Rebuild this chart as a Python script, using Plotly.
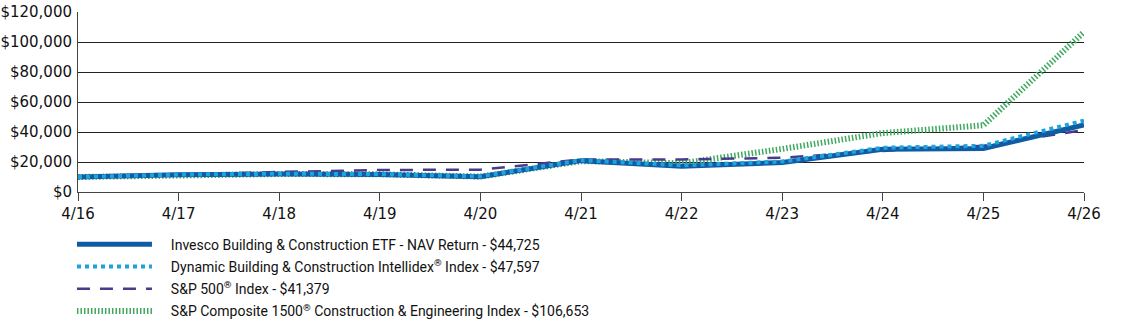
import plotly.graph_objects as go

tick_labels = ["4/16", "4/17", "4/18", "4/19", "4/20", "4/21", "4/22", "4/23", "4/24", "4/25", "4/26"]
x_pos = list(range(len(tick_labels)))

invesco = [10000, 11500, 12000, 11600, 10200, 20900, 17200, 19700, 28500, 29000, 44725]
dynamic = [10000, 11600, 12200, 11900, 10400, 21200, 17800, 20300, 29500, 30800, 47597]
sp500 = [10000, 11792, 13356, 14700, 14840, 21660, 21710, 22800, 27340, 30830, 41379]
sp1500ce = [10000, 11400, 12000, 11800, 10300, 20600, 19200, 28700, 39300, 44500, 106653]

names = [
    "Invesco Building & Construction ETF - NAV Return - $44,725",
    "Dynamic Building & Construction Intellidex<sup>®</sup> Index - $47,597",
    "S&P 500<sup>®</sup> Index - $41,379",
    "S&P Composite 1500<sup>®</sup> Construction & Engineering Index - $106,653",
]
pad = "\u00a0" * 4

y_ticks = [0, 20000, 40000, 60000, 80000, 100000, 120000]
y_tick_text = ["$0", "$20,000", "$40,000", "$60,000", "$80,000", "$100,000", "$120,000"]

fig = go.Figure()
fig.add_trace(go.Scatter(x=x_pos, y=sp1500ce, mode="lines", name=pad + names[3], legendrank=4,
                         legendgroup="d", line=dict(color="#3fa85f", width=6, dash="1.5px,2px")))
fig.add_trace(go.Scatter(x=x_pos, y=sp500, mode="lines", name=pad + names[2], legendrank=3,
                         legendgroup="c", line=dict(color="#4a3a8e", width=2.5, dash="13px,10px")))
fig.add_trace(go.Scatter(x=x_pos, y=invesco, mode="lines", name=pad + names[0], legendrank=1,
                         legendgroup="a", line=dict(color="#0f5ca5", width=5)))
fig.add_trace(go.Scatter(x=x_pos, y=dynamic, mode="lines", name=pad + names[1], legendrank=2,
                         legendgroup="b", line=dict(color="#1ea3dd", width=4, dash="dot")))

fig.update_layout(
    width=1123, height=327,
    margin=dict(l=78, r=39, t=12, b=135, autoexpand=False),
    paper_bgcolor="white", plot_bgcolor="white",
    font=dict(family="DejaVu Sans", size=15, color="#111"),
    showlegend=True,
    legend=dict(
        x=-0.006, y=-0.204, xanchor="left", yanchor="top",
        font=dict(family="Roboto", size=14, color="#111"),
        itemwidth=75, tracegroupgap=1, traceorder="grouped",
        bgcolor="rgba(0,0,0,0)",
    ),
    xaxis=dict(
        range=[0, 10], tickmode="array", tickvals=x_pos, ticktext=tick_labels,
        showgrid=False, zeroline=False, showline=True, linecolor="#444", linewidth=1,
        ticks="outside", ticklen=8, tickcolor="#444", automargin=False,
    ),
    yaxis=dict(
        range=[0, 120000], tickmode="array", tickvals=y_ticks, ticktext=y_tick_text,
        showgrid=True, gridcolor="#222", gridwidth=1, zeroline=False,
        showline=True, linecolor="#444", linewidth=1, ticks="", automargin=False,
        ticklabelstandoff=2,
    ),
)

fig.write_html("out.html")
